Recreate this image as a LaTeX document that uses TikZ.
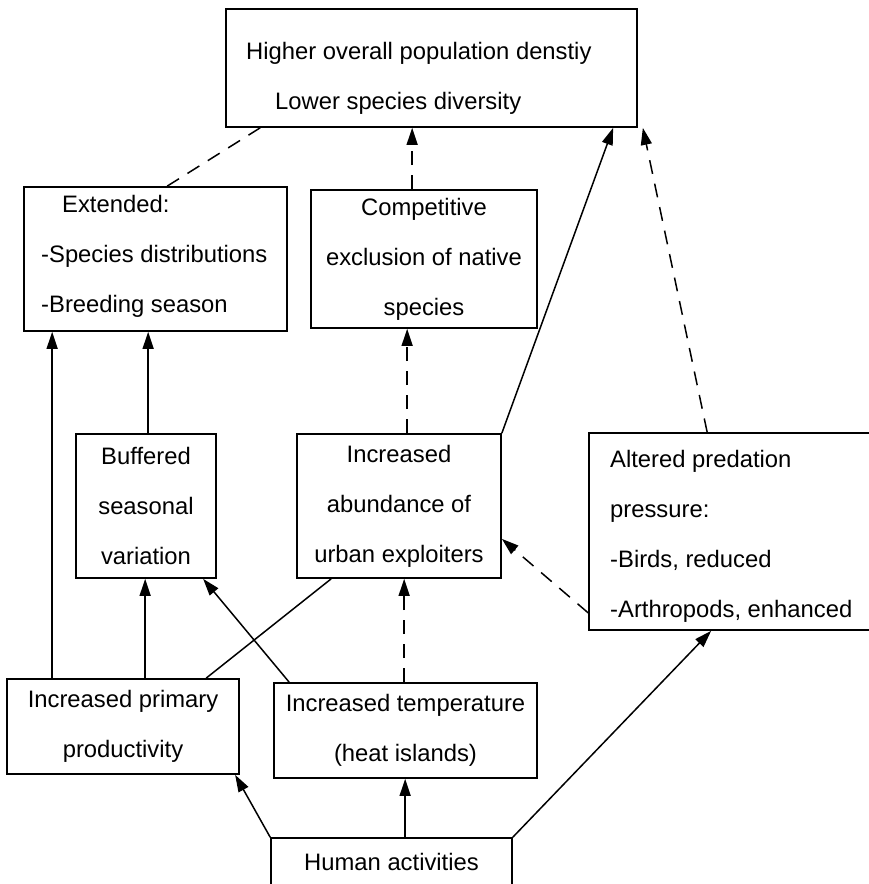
\documentclass[tikz,border=0pt]{standalone}
\usepackage{fontspec}
\setmainfont{Liberation Sans}
\usetikzlibrary{arrows.meta}

\tikzset{
  box/.style={draw, line width=1.7pt, rectangle, inner sep=0pt, align=center,
              font=\fontsize{23.8}{50}\selectfont},
  txt/.style={inner sep=0pt, align=left, font=\fontsize{23.8}{50}\selectfont},
  link/.style={line width=1.5pt},
  arr/.style={link, -{Triangle[length=17pt,width=11pt]}},
  dlink/.style={link, dash pattern=on 14pt off 10pt},
  darr/.style={arr, dash pattern=on 14pt off 10pt},
}

\begin{document}
\begin{tikzpicture}[x=1pt, y=-1pt]
  \useasboundingbox (0,0) rectangle (869,884);
  \clip (0,0) rectangle (869,884);

  % boxes
  \node[box, minimum width=411pt, minimum height=118pt] (outcome) at (431.5,68) {};
  \node[txt, anchor=west] (outcometext) at (246,78)
    {Higher overall population denstiy\\\hspace*{29pt}Lower species diversity};

  \node[box, minimum width=263pt, minimum height=144pt] (extended) at (155.5,259) {};
  \node[txt, anchor=west] (extendedtext) at (41,256)
    {\hspace*{21pt}Extended:\\-Species distributions\\-Breeding season};

  \node[box, minimum width=226pt, minimum height=138pt] (compet) at (424,259)
    {Competitive\\exclusion of native\\species};

  \node[box, minimum width=140pt, minimum height=144pt] (buffered) at (146,506)
    {Buffered\\seasonal\\variation};

  \node[box, minimum width=204pt, minimum height=144pt] (abundance) at (399,506)
    {Increased\\abundance of\\urban exploiters};

  \node[box, minimum width=284pt, minimum height=197pt] (predation) at (731,531.5) {};
  \node[txt, anchor=west] (predationtext) at (610,536)
    {Altered predation\\pressure:\\-Birds, reduced\\-Arthropods, enhanced};

  \node[box, minimum width=232pt, minimum height=95pt] (primary) at (123,726.5)
    {Increased primary\\productivity};

  \node[box, minimum width=263pt, minimum height=95pt] (temp) at (405.5,730.5)
    {Increased temperature\\(heat islands)};

  \node[box, minimum width=241pt, minimum height=48pt] (human) at (391.5,862)
    {Human activities};

  % connectors into the outcome box
  \draw[dlink] ([xshift=144pt]extended.north west) -- ([xshift=35pt]outcome.south west);
  \draw[darr] ([xshift=102pt]compet.north west) -- ([xshift=187pt]outcome.south west);
  \draw[arr] (abundance.north east) -- ([xshift=388pt]outcome.south west);
  \draw[darr] ([xshift=119pt]predation.north west) -- ([xshift=5pt]outcome.south east);

  % middle row
  \draw[darr] ([xshift=111pt]abundance.north west) -- ([xshift=97pt]compet.south west);
  \draw[arr] ([xshift=73pt]buffered.north west) -- ([xshift=125pt]extended.south west);
  \draw[arr] ([xshift=46pt]primary.north west) -- ([xshift=29pt]extended.south west);
  \draw[arr] ([xshift=139pt]primary.north west) -- ([xshift=70pt]buffered.south west);
  \draw[link] ([xshift=200pt]primary.north west) -- ([xshift=35pt]abundance.south west);
  \draw[arr] ([xshift=16pt]temp.north west) -- ([xshift=128pt]buffered.south west);
  \draw[darr] ([xshift=131pt]temp.north west) -- ([xshift=108pt]abundance.south west);
  \draw[darr] ([yshift=18pt]predation.south west) -- ([yshift=40pt]abundance.south east);

  % from human activities
  \draw[arr] (human.north west) -- ([xshift=229pt]primary.south west);
  \draw[arr] ([xshift=135pt]human.north west) -- ([xshift=132pt]temp.south west);
  \draw[arr] (human.north east) -- ([xshift=123pt]predation.south west);
\end{tikzpicture}
\end{document}
